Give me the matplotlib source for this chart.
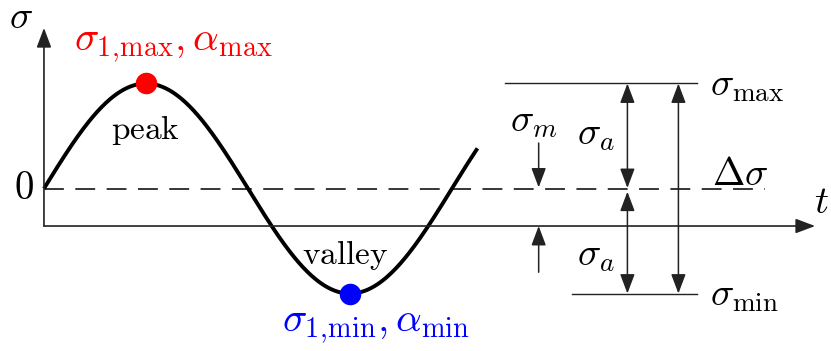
import numpy as np
import matplotlib.pyplot as plt

# --- diagram values (t in quarter periods, sigma in amplitude units) ---
sigma_m = 0.357          # mean stress (dashed line), t-axis is sigma = 0
sigma_a = 1.0            # stress amplitude
sigma_max = sigma_m + sigma_a
sigma_min = sigma_m - sigma_a
t_wave_end = 4.25        # where the drawn wave stops
t_peak = 1.0
t_valley = 3.0

# x positions of the annotation elements on the right
t_sigma_m_arrow = 4.85
t_sigma_a_arrow = 5.72
t_delta_arrow = 6.22
t_max_line = (4.52, 6.40)
t_min_line = (5.18, 6.40)
t_dash_end = 7.07
t_axis_end = 7.56
s_axis_end = 1.886

peak_label = r'$\sigma_{1,\!\mathrm{max}}, \alpha_{\mathrm{max}}$'
valley_label = r'$\sigma_{1,\!\mathrm{min}}, \alpha_{\mathrm{min}}$'

plt.rcParams['mathtext.fontset'] = 'cm'
plt.rcParams['font.family'] = 'serif'
plt.rcParams['font.serif'] = ['DejaVu Serif']

fig = plt.figure(figsize=(8.31, 3.51), dpi=100)
ax = fig.add_axes([0, 0, 1, 1])
ax.set_xlim(-0.431, 7.716)
ax.set_ylim(-1.190, 2.152)
ax.axis('off')

axis_col = '#222222'
FS = 28


def arrow(x0, y0, x1, y1, style='-|>', lw=1.1, hl=0.85, hw=0.32, color=axis_col):
    ax.annotate('', xy=(x1, y1), xytext=(x0, y0),
                arrowprops=dict(arrowstyle=f'{style},head_length={hl},head_width={hw}',
                                lw=lw, color=color, shrinkA=0, shrinkB=0,
                                mutation_scale=14))


# axes with arrows
arrow(0, 0, 0, s_axis_end, lw=1.2)
arrow(0, 0, t_axis_end, 0, lw=1.2)
ax.text(-0.22, 1.99, r'$\sigma$', fontsize=FS, ha='center', va='center')
ax.text(-0.2, sigma_m, r'$0$', fontsize=FS, ha='center', va='center')
ax.text(7.62, 0.22, r'$t$', fontsize=FS, ha='center', va='center')

# mean stress dashed line
ax.plot([0, t_dash_end], [sigma_m, sigma_m], ls=(0, (13, 7.5)), lw=1.1, color='black')

# the stress wave
t = np.linspace(0, t_wave_end, 400)
s = sigma_m + sigma_a * np.sin(np.pi / 2 * t)
ax.plot(t, s, color='black', lw=2.8, solid_capstyle='butt')

# peak and valley
ax.plot(t_peak, sigma_max, 'o', color='red', ms=14.5, zorder=5)
ax.plot(t_valley, sigma_min, 'o', color='blue', ms=14.5, zorder=5)
ax.text(t_peak, 0.91, r'$\mathrm{peak}$', fontsize=FS - 4, ha='center', va='center')
ax.text(t_valley - 0.05, -0.28, r'$\mathrm{valley}$', fontsize=FS - 4, ha='center', va='center')
ax.text(t_peak + 0.27, 1.71, peak_label, fontsize=FS + 1, color='red', ha='center', va='center')
ax.text(t_valley + 0.25, -0.97, valley_label, fontsize=FS + 1, color='blue', ha='center', va='center')

# max / min reference lines
ax.plot(t_max_line, [sigma_max, sigma_max], color=axis_col, lw=1.0)
ax.plot(t_min_line, [sigma_min, sigma_min], color=axis_col, lw=1.0)
ax.text(6.53, sigma_max - 0.02, r'$\sigma_{\mathrm{max}}$', fontsize=FS, ha='left', va='center')
ax.text(6.53, sigma_min - 0.02, r'$\sigma_{\mathrm{min}}$', fontsize=FS, ha='left', va='center')

# sigma_m arrows (pointing at the dashed line and the t axis)
arrow(t_sigma_m_arrow, 0.79, t_sigma_m_arrow, sigma_m + 0.01)
arrow(t_sigma_m_arrow, -0.44, t_sigma_m_arrow, 0.0)
ax.text(t_sigma_m_arrow - 0.05, 0.997, r'$\sigma_m$', fontsize=FS, ha='center', va='center')

# amplitude arrows
arrow(t_sigma_a_arrow, sigma_max, t_sigma_a_arrow, sigma_m + 0.005, style='<|-|>')
arrow(t_sigma_a_arrow, sigma_m - 0.03, t_sigma_a_arrow, sigma_min, style='<|-|>')
ax.text(5.41, 0.87, r'$\sigma_a$', fontsize=FS, ha='center', va='center')
ax.text(5.41, -0.28, r'$\sigma_a$', fontsize=FS, ha='center', va='center')

# range arrow
arrow(t_delta_arrow, sigma_max, t_delta_arrow, sigma_min, style='<|-|>')
ax.text(6.55, 0.49, r'$\Delta\sigma$', fontsize=FS, ha='left', va='center')

fig.savefig('out.png', dpi=100)
